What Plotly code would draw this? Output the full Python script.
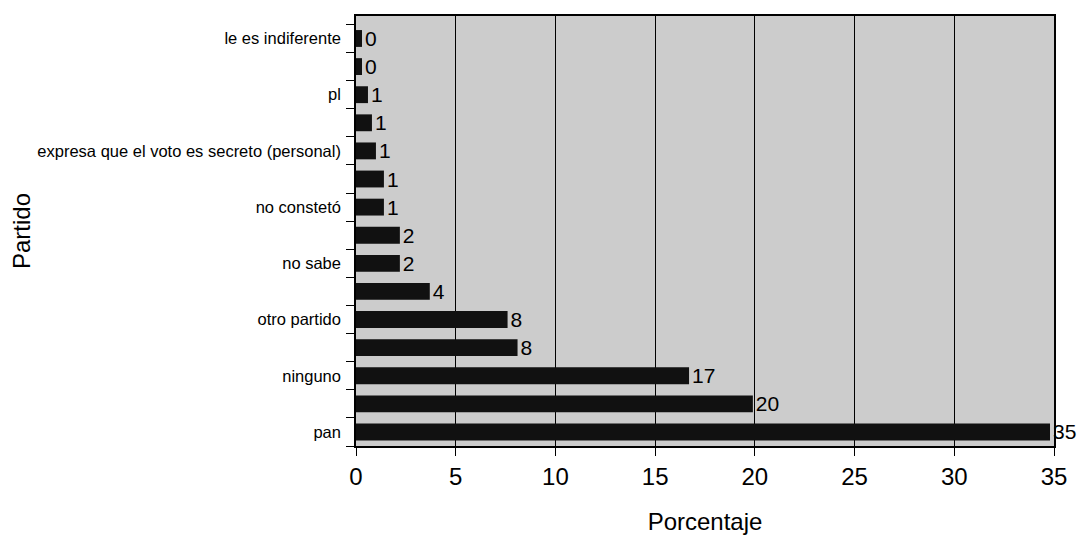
import plotly.graph_objects as go

# categories from bottom to top (unlabeled bars have empty tick text)
categories = ["pan", "", "ninguno", "", "otro partido", "", "no sabe", "",
              "no constetó", "", "expresa que el voto es secreto (personal)", "",
              "pl", "", "le es indiferente"]
values = [34.8, 19.9, 16.7, 8.1, 7.6, 3.7, 2.2, 2.2, 1.4, 1.4, 1.0, 0.8, 0.6, 0.3, 0.3]
x_ticks = [0, 5, 10, 15, 20, 25, 30, 35]

positions = list(range(len(categories)))
labels = [str(int(round(v))) for v in values]

fig = go.Figure()
fig.add_trace(go.Bar(
    x=values, y=positions, orientation="h",
    marker=dict(color="#111111", line=dict(width=0)),
    width=0.6,
    text=labels, textposition="outside", cliponaxis=False, constraintext="none",
    textfont=dict(family="Liberation Sans, Arial", size=21, color="#000000"),
    showlegend=False,
))
# invisible trace on a second y axis to draw boundary ticks
fig.add_trace(go.Scatter(x=[0], y=[0], yaxis="y2", mode="markers",
                         marker=dict(opacity=0), showlegend=False, hoverinfo="skip"))

boundaries = [p - 0.5 for p in positions] + [positions[-1] + 0.5]

fig.update_layout(
    width=1086, height=547,
    margin=dict(l=348, r=40, t=8, b=109),
    paper_bgcolor="white",
    plot_bgcolor="#cccccc",
    font=dict(family="Liberation Sans, Arial", color="#000000"),
    xaxis=dict(
        range=[0, 35], tickvals=x_ticks, ticks="outside", ticklen=8,
        tickcolor="#000", showgrid=True, gridcolor="#000000", gridwidth=1,
        zeroline=False, showline=True, linecolor="#000", linewidth=1.5, mirror=True,
        tickfont=dict(size=24), automargin=False,
        title=dict(text="Porcentaje", font=dict(size=24), standoff=25),
    ),
    yaxis=dict(
        range=[-0.5, 14.8], tickvals=positions, ticktext=categories,
        ticks="", showgrid=False, zeroline=False,
        showline=True, linecolor="#000", linewidth=1.5, mirror=True,
        tickfont=dict(size=16.5), ticklabelstandoff=10, automargin=False,
        title=dict(text="Partido", font=dict(size=24), standoff=2),
    ),
    yaxis2=dict(
        overlaying="y", side="left", range=[-0.5, 14.8],
        tickvals=boundaries, ticktext=[""] * len(boundaries),
        ticks="outside", ticklen=9, tickcolor="#000",
        showgrid=False, zeroline=False, showline=False, automargin=False,
    ),
    bargap=0.4,
)

fig.write_html("out.html")
